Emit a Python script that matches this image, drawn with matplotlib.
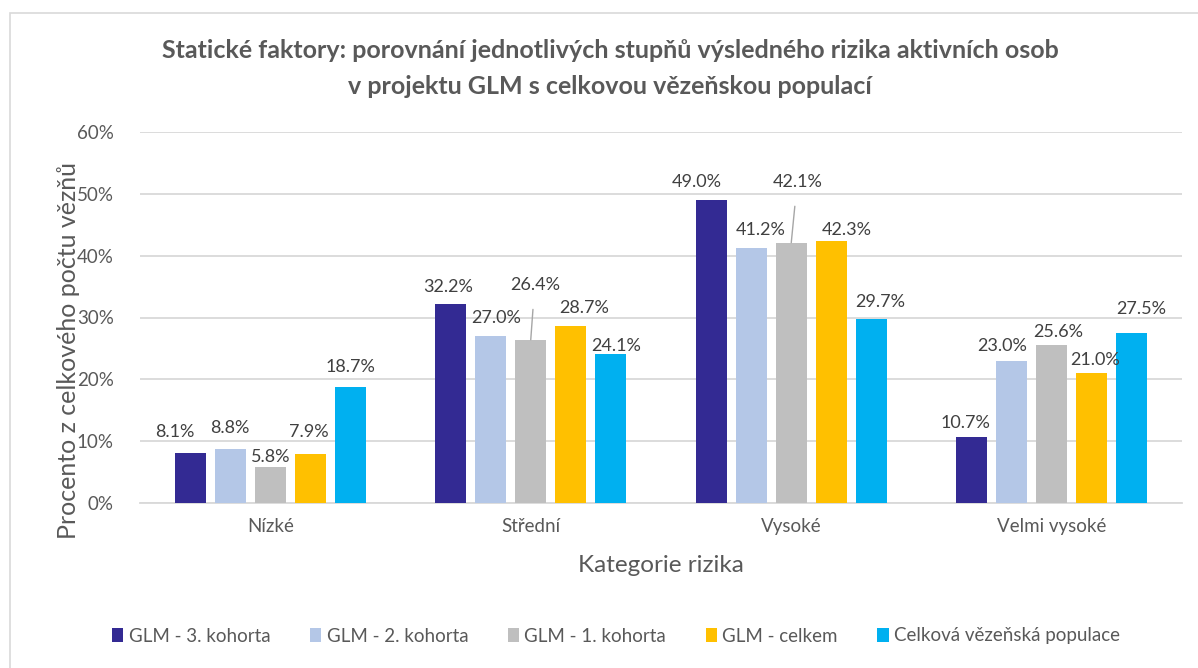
import matplotlib
matplotlib.use("Agg")
import matplotlib.pyplot as plt
import numpy as np
from matplotlib.patches import Rectangle, Patch
from matplotlib.ticker import PercentFormatter

categories = ["Nízké", "Střední", "Vysoké", "Velmi vysoké"]
series_names = ["GLM - 3. kohorta", "GLM - 2. kohorta", "GLM - 1. kohorta",
                "GLM - celkem", "Celková vězeňská populace"]
glm_k3 = [8.1, 32.2, 49.0, 10.7]
glm_k2 = [8.8, 27.0, 41.2, 23.0]
glm_k1 = [5.8, 26.4, 42.1, 25.6]
glm_total = [7.9, 28.7, 42.3, 21.0]
population = [18.7, 24.1, 29.7, 27.5]
series_values = [glm_k3, glm_k2, glm_k1, glm_total, population]

colors = ["#332A93", "#B4C7E7", "#BFBFBF", "#FFC000", "#00B0F0"]

# label offsets in pixels (dx, dy) per series per category: layout only
label_dx = [[-15, -3, -15, -6],
            [0, 5, 9, -10],
            [0, 4, 6, 6],
            [-1, 13, 16, 3],
            [0, 5, 9, 9]]
label_dy = [[21, 17, 18, 14],
            [21, 18, 18, 15],
            [10, 55, 61, 13],
            [22, 18, 11, 13],
            [20, 8, 17, 24]]
leader = [[False] * 4, [False] * 4, [False, True, True, False], [False] * 4, [False] * 4]

plt.rcParams['font.family'] = ['Lato', 'DejaVu Sans']
W, H = 1198, 668
fig = plt.figure(figsize=(W / 100, H / 100), dpi=100)
fig.patch.set_facecolor("white")

# chart border (left/top visible)
fig.patches.append(Rectangle((10 / W, -0.1), 1.2, 1 - 13 / H + 0.1, transform=fig.transFigure,
                             fill=False, edgecolor="#D9D9D9", linewidth=1.2))

ax = fig.add_axes([140 / W, 1 - 503 / H, (1182 - 140) / W, (503 - 132) / H])
x = np.arange(len(categories))
bw = 31 / 260.5
step = 40 / 260.5
txt_col = "#404040"
for i, (name, vals, c) in enumerate(zip(series_names, series_values, colors)):
    pos = x + (i - 2) * step
    ax.bar(pos, vals, width=bw, color=c, label=name, zorder=3)
    for j, (p, v) in enumerate(zip(pos, vals)):
        dx, dy = label_dx[i][j], label_dy[i][j]
        kw = dict(xy=(p, v), xytext=(dx, dy), textcoords="offset pixels",
                  ha="center", va="center", fontsize=13, color=txt_col, zorder=5)
        if leader[i][j]:
            kw["arrowprops"] = dict(arrowstyle="-", color="#A6A6A6", lw=1, shrinkA=10, shrinkB=0)
        ax.annotate(f"{v:.1f}%", **kw)

ax.set_xlim(-0.5, 3.5)
ax.set_ylim(0, 60)
ax.set_yticks(np.arange(0, 61, 10))
ax.yaxis.set_major_formatter(PercentFormatter(decimals=0))
ax.set_xticks(x)
ax.set_xticklabels(categories)
ax.grid(axis="y", color="#D9D9D9", linewidth=1.3, zorder=0)
for s in ["top", "right", "left"]:
    ax.spines[s].set_visible(False)
ax.spines["bottom"].set_color("#D9D9D9")
ax.spines["bottom"].set_linewidth(1.3)
ax.tick_params(axis="both", length=0, colors="#595959", labelsize=13.5)
ax.tick_params(axis="y", pad=19)
ax.tick_params(axis="x", pad=11)
ax.set_ylabel("Procento z celkového počtu vězňů", fontsize=18, color="#595959")
ax.yaxis.set_label_coords(-0.058, 0.41)
ax.set_xlabel("Kategorie rizika", fontsize=17.5, color="#595959", labelpad=14)

fig.text(610 / W, 1 - 50 / H, "Statické faktory: porovnání jednotlivých stupňů výsledného rizika aktivních osob",
         ha="center", va="center", fontsize=18, fontweight="bold", color="#595959")
fig.text(610 / W, 1 - 86 / H, "v projektu GLM s celkovou vězeňskou populací",
         ha="center", va="center", fontsize=18, fontweight="bold", color="#595959")

handles = [Patch(facecolor=c, edgecolor="none") for c in colors]
fig.legend(handles, series_names, loc="center", bbox_to_anchor=(616 / W, 1 - 636 / H), ncol=5,
           frameon=False, fontsize=13.5, labelcolor="#595959", handlelength=0.6, handleheight=0.8,
           handletextpad=0.3, columnspacing=2.1)

fig.savefig("out.png", dpi=100, facecolor="white")
